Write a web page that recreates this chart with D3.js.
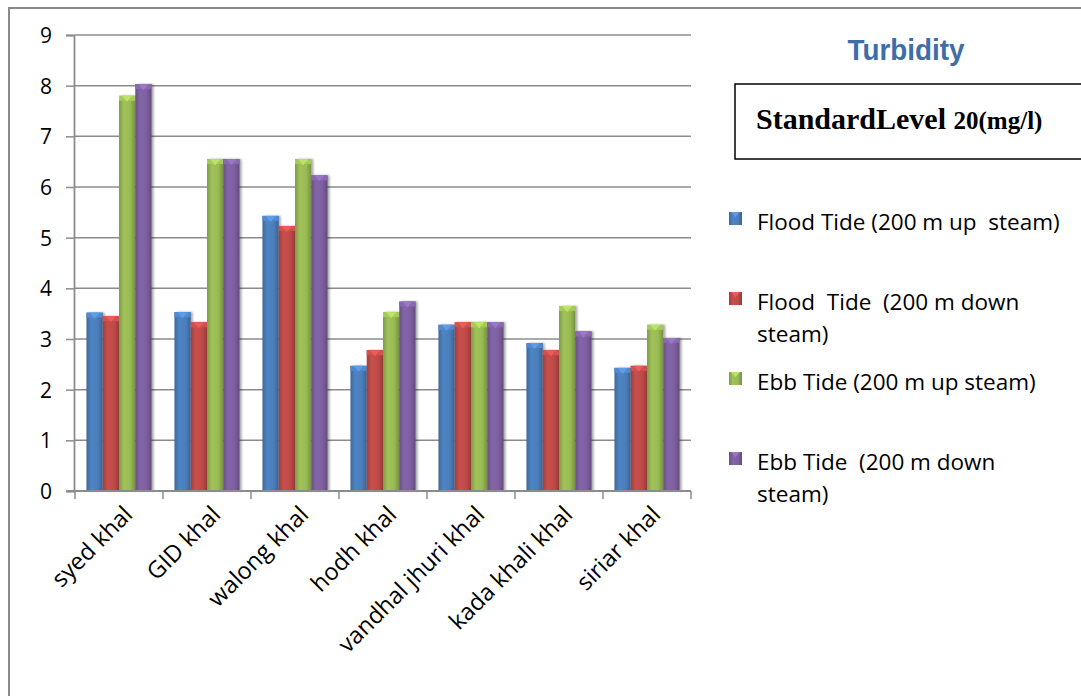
<!DOCTYPE html>
<html>
<head>
<meta charset="utf-8">
<script src="https://cdn.jsdelivr.net/npm/d3@7"></script>
<style>
  html, body { margin: 0; padding: 0; background: #fff; }
  svg { display: block; }
</style>
</head>
<body>
<svg id="chart" width="1081" height="696"></svg>
<script>
// Sampling sites along the x axis
const categories = ["syed khal", "GID khal", "walong khal", "hodh khal",
                    "vandhal jhuri khal", "kada khali khal", "siriar khal"];

// Turbidity readings per tide condition
const floodUp   = [3.52, 3.53, 5.43, 2.47, 3.28, 2.92, 2.43];
const floodDown = [3.45, 3.33, 5.23, 2.78, 3.33, 2.78, 2.47];
const ebbUp     = [7.80, 6.55, 6.55, 3.53, 3.33, 3.65, 3.28];
const ebbDown   = [8.03, 6.55, 6.23, 3.74, 3.33, 3.15, 3.02];

const seriesNames = [
  ["Flood Tide (200 m up  steam)"],
  ["Flood  Tide  (200 m down", "steam)"],
  ["Ebb Tide (200 m up steam)"],
  ["Ebb Tide  (200 m down", "steam)"]
];
const yTicks = [0, 1, 2, 3, 4, 5, 6, 7, 8, 9];

const series = [floodUp, floodDown, ebbUp, ebbDown];
const colors = ["#4a7ebb", "#be4b48", "#98b954", "#7d60a0"];
const labelFont = "'Open Sans', Lato, sans-serif";

const svg = d3.select("#chart");
const defs = svg.append("defs");

// Horizontal shading for the rounded look of each bar
colors.forEach((c, i) => {
  const base = d3.color(c);
  const g = defs.append("linearGradient").attr("id", "grad" + i)
    .attr("x1", "0%").attr("x2", "100%").attr("y1", "0%").attr("y2", "0%");
  g.append("stop").attr("offset", "0%").attr("stop-color", base.darker(0.5));
  g.append("stop").attr("offset", "30%").attr("stop-color", base.brighter(0.15));
  g.append("stop").attr("offset", "70%").attr("stop-color", base);
  g.append("stop").attr("offset", "100%").attr("stop-color", base.darker(0.7));
});
const shadow = defs.append("filter").attr("id", "shadow")
  .attr("x", "-30%").attr("y", "-10%").attr("width", "160%").attr("height", "120%");
shadow.append("feDropShadow").attr("dx", 2).attr("dy", 0).attr("stdDeviation", 1.2)
  .attr("flood-color", "#000").attr("flood-opacity", 0.35);

// Outer frame (left and top edges visible)
svg.append("path")
  .attr("d", "M9,700 L9,8 L1090,8")
  .attr("fill", "none").attr("stroke", "#8a8a8a").attr("stroke-width", 2);

const x0 = d3.scaleBand().domain(categories).range([75, 691])
  .paddingInner(0.26).paddingOuter(0.13);
const x1 = d3.scaleBand().domain(d3.range(series.length)).range([0, x0.bandwidth()]);
const y = d3.scaleLinear().domain([0, 9]).range([491, 35]);

// Gridlines
svg.append("g").selectAll("line").data(yTicks.slice(1)).join("line")
  .attr("x1", 75).attr("x2", 691)
  .attr("y1", d => y(d)).attr("y2", d => y(d))
  .attr("stroke", "#8c8c8c").attr("stroke-width", 1.5);

// Y axis
const yAxis = svg.append("g").attr("transform", "translate(74,0)")
  .call(d3.axisLeft(y).tickValues(yTicks).tickSize(8).tickPadding(14).tickFormat(d3.format("d")));
yAxis.select(".domain").attr("stroke", "#8c8c8c").attr("stroke-width", 1.8);
yAxis.selectAll(".tick line").attr("stroke", "#8c8c8c").attr("stroke-width", 1.5);
yAxis.selectAll(".tick text").attr("font-family", labelFont)
  .attr("font-size", 21).attr("fill", "#000").attr("dy", "0.36em");

// Bars
const groups = svg.append("g").selectAll("g").data(categories).join("g")
  .attr("transform", d => `translate(${x0(d)},0)`);

groups.each(function (cat, ci) {
  const g = d3.select(this);
  series.forEach((vals, si) => {
    const v = vals[ci];
    const bx = x1(si), bw = x1.bandwidth();
    const top = y(v), h = y(0) - top;
    g.append("rect")
      .attr("x", bx).attr("y", top).attr("width", bw).attr("height", h)
      .attr("fill", `url(#grad${si})`).attr("filter", "url(#shadow)");
    // bevelled cap
    const light = d3.color(colors[si]).brighter(0.6);
    g.append("rect").attr("x", bx).attr("y", top).attr("width", bw).attr("height", 5)
      .attr("fill", d3.color(colors[si]).brighter(0.25));
    g.append("path")
      .attr("d", `M${bx + 3},${top} L${bx + bw - 3},${top} L${bx + bw / 2},${top + 6} Z`)
      .attr("fill", light);
  });
});

// X axis
const xAxis = svg.append("g").attr("transform", "translate(0,491)");
xAxis.append("line").attr("x1", 66).attr("x2", 691).attr("y1", 0).attr("y2", 0)
  .attr("stroke", "#8c8c8c").attr("stroke-width", 1.8);
const bounds = categories.map((c, i) => 75 + i * x0.step()).concat([691]);
xAxis.selectAll("line.tk").data(bounds).join("line").attr("class", "tk")
  .attr("x1", d => d).attr("x2", d => d).attr("y1", 0).attr("y2", 8)
  .attr("stroke", "#8c8c8c").attr("stroke-width", 1.5);
xAxis.selectAll("text").data(categories).join("text")
  .attr("transform", d => `translate(${x0(d) + x0.bandwidth() / 2 + 15},${25}) rotate(-45)`)
  .attr("text-anchor", "end")
  .attr("font-family", labelFont).attr("font-size", 23.5)
  .attr("fill", "#000")
  .text(d => d);

// Title
svg.append("text").attr("x", 906).attr("y", 60).attr("text-anchor", "middle")
  .attr("font-family", "'Liberation Sans', Arial, sans-serif")
  .attr("font-weight", "bold").attr("font-size", 30).attr("fill", "#3d6ea8")
  .attr("textLength", 117).attr("lengthAdjust", "spacingAndGlyphs")
  .text("Turbidity");

// Standard level box
svg.append("rect").attr("x", 735).attr("y", 84).attr("width", 360).attr("height", 75)
  .attr("fill", "#fff").attr("stroke", "#000").attr("stroke-width", 1.5);
const std = svg.append("text").attr("x", 756).attr("y", 129)
  .attr("font-family", "'Liberation Serif', serif").attr("font-weight", "bold")
  .attr("fill", "#000");
std.append("tspan").attr("font-size", 30).text("StandardLevel ");
std.append("tspan").attr("font-size", 25).text("20(mg/l)");

// Legend
const legendBase = [230, 310, 390, 470];
const legend = svg.append("g");
seriesNames.forEach((lines, i) => {
  const b = legendBase[i];
  const c = d3.color(colors[i]);
  legend.append("rect").attr("x", 729).attr("y", b - 18).attr("width", 13).attr("height", 13)
    .attr("fill", `url(#grad${i})`);
  legend.append("path")
    .attr("d", `M${731},${b - 18} L${740},${b - 18} L${735.5},${b - 13} Z`)
    .attr("fill", c.brighter(0.6));
  lines.forEach((t, k) => {
    legend.append("text").attr("x", 757).attr("y", b + k * 32)
      .attr("font-family", labelFont).attr("font-size", 22.5)
      .attr("fill", "#000").style("white-space", "pre")
      .text(t);
  });
});
</script>
</body>
</html>
